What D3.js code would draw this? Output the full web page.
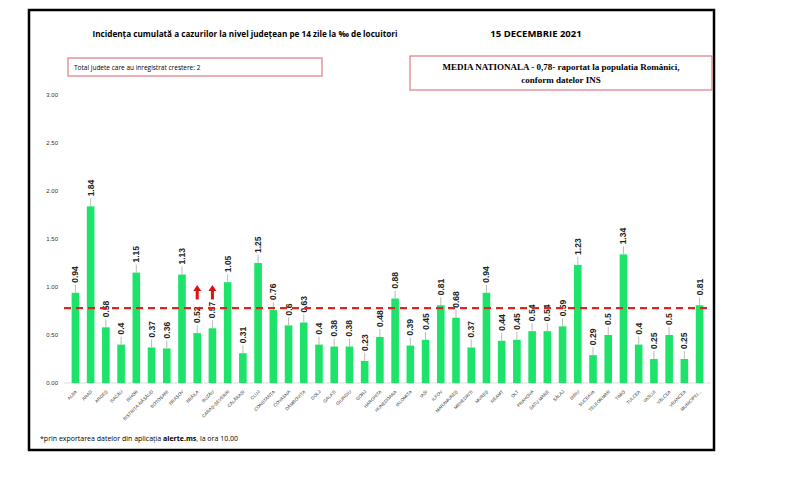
<!DOCTYPE html>
<html><head><meta charset="utf-8">
<script src="https://cdn.jsdelivr.net/npm/d3@7"></script>
<style>body{margin:0;background:#fff;font-family:"Liberation Sans",Arial,sans-serif}</style>
</head><body><svg id="c" width="800" height="478"></svg>
<script>
const counties = ['ALBA','ARAD','ARGEȘ','BACĂU','BIHOR','BISTRIȚA-NĂSĂUD','BOTOȘANI','BRAȘOV','BRĂILA','BUZĂU','CARAȘ-SEVERIN','CĂLĂRAȘI','CLUJ','CONSTANȚA','COVASNA','DÂMBOVIȚA','DOLJ','GALAȚI','GIURGIU','GORJ','HARGHITA','HUNEDOARA','IALOMIȚA','IAȘI','ILFOV','MARAMUREȘ','MEHEDINȚI','MUREȘ','NEAMȚ','OLT','PRAHOVA','SATU MARE','SĂLAJ','SIBIU','SUCEAVA','TELEORMAN','TIMIȘ','TULCEA','VASLUI','VÂLCEA','VRANCEA','MUNICIPIU...'];
const incidence = [0.94,1.84,0.58,0.4,1.15,0.37,0.36,1.13,0.52,0.57,1.05,0.31,1.25,0.76,0.6,0.63,0.4,0.38,0.38,0.23,0.48,0.88,0.39,0.45,0.81,0.68,0.37,0.94,0.44,0.45,0.54,0.54,0.59,1.23,0.29,0.5,1.34,0.4,0.25,0.5,0.25,0.81];
const increased = ['BRĂILA','BUZĂU'];
const yTicks = [0,0.5,1,1.5,2,2.5,3];
const nationalAvg = 0.78;

const svg = d3.select('#c');
svg.append('rect').attr('x',29).attr('y',10).attr('width',685).attr('height',440)
  .attr('fill','none').attr('stroke','#000').attr('stroke-width',2.5);

const x = d3.scaleBand().domain(counties).range([64,711]).padding(0.5);
const y = d3.scaleLinear().domain([0,3]).range([383,95]);

svg.append('text').attr('x',245).attr('y',37).attr('text-anchor','middle')
  .attr('font-size',9.5).attr('font-weight','bold').attr('font-family','"Open Sans",sans-serif')
  .attr('textLength',305).attr('lengthAdjust','spacingAndGlyphs')
  .text('Incidența cumulată a cazurilor la nivel județean pe 14 zile la ‰ de locuitori');
svg.append('text').attr('x',536).attr('y',37).attr('text-anchor','middle')
  .attr('font-size',9.5).attr('font-weight','bold').attr('font-family','"Open Sans",sans-serif')
  .text('15 DECEMBRIE 2021');

svg.append('rect').attr('x',68).attr('y',58).attr('width',254).attr('height',18)
  .attr('fill','none').attr('stroke','#e07a80').attr('stroke-width',1.2);
svg.append('text').attr('x',74).attr('y',70).attr('font-size',6.5).attr('font-family','"Open Sans",sans-serif')
  .text('Total judete care au inregistrat crestere: 2');
svg.append('rect').attr('x',410).attr('y',56).attr('width',302).attr('height',34)
  .attr('fill','none').attr('stroke','#e07a80').attr('stroke-width',1.2);
svg.append('text').attr('x',561).attr('y',70).attr('text-anchor','middle').attr('font-size',9)
  .attr('font-weight','bold').attr('font-family','"Liberation Serif",serif')
  .text('MEDIA NATIONALA - 0,78-  raportat la populatia Românici,');
svg.append('text').attr('x',561).attr('y',83).attr('text-anchor','middle').attr('font-size',9)
  .attr('font-weight','bold').attr('font-family','"Liberation Serif",serif')
  .text('conform datelor INS');

const yAxis = svg.append('g').attr('transform','translate(60,0)')
  .call(d3.axisLeft(y).tickValues(yTicks).tickFormat(d3.format('.2f')).tickSize(0));
yAxis.select('.domain').remove();
yAxis.selectAll('text').attr('font-size',6).attr('fill','#333').attr('x',-2);

svg.append('line').attr('x1',64).attr('x2',711).attr('y1',y(0)).attr('y2',y(0)).attr('stroke','#ddd');

const g = svg.append('g');
counties.forEach((c,i)=>{
  const v = incidence[i], cx = x(c)+x.bandwidth()/2;
  g.append('rect').attr('x',x(c)).attr('y',y(v)).attr('width',x.bandwidth()).attr('height',y(0)-y(v)).attr('fill','#1ee36a');
  g.append('line').attr('x1',cx).attr('x2',cx).attr('y1',y(v)).attr('y2',y(v)-8).attr('stroke','#aaa').attr('stroke-width',0.8);
  g.append('text').attr('transform',`translate(${cx+3},${y(v)-10}) rotate(-90)`)
    .attr('font-size',8.5).attr('font-weight','bold').attr('fill','#222').text(String(v));
  g.append('text').attr('transform',`translate(${cx+2},${y(0)+9}) rotate(-45)`).attr('text-anchor','end')
    .attr('font-size',4.5).attr('fill','#333').text(c);
});

svg.append('line').attr('x1',64).attr('x2',711).attr('y1',y(nationalAvg)).attr('y2',y(nationalAvg))
  .attr('stroke','#e3231f').attr('stroke-width',2.2).attr('stroke-dasharray','7,5');

increased.forEach(c=>{
  const cx = x(c)+x.bandwidth()/2, top = y(1.02), bot = y(0.87);
  svg.append('line').attr('x1',cx).attr('x2',cx).attr('y1',top+5).attr('y2',bot).attr('stroke','#e01010').attr('stroke-width',3);
  svg.append('path').attr('d',`M${cx-4},${top+6}L${cx},${top}L${cx+4},${top+6}Z`).attr('fill','#e01010');
});

const foot = svg.append('text').attr('x',40).attr('y',441).attr('font-size',7).attr('font-family','"Open Sans",sans-serif');
foot.append('tspan').text('*prin exportarea datelor din aplicația ');
foot.append('tspan').attr('font-weight','bold').text('alerte.ms');
foot.append('tspan').text(', la ora 10.00');
</script></body></html>
